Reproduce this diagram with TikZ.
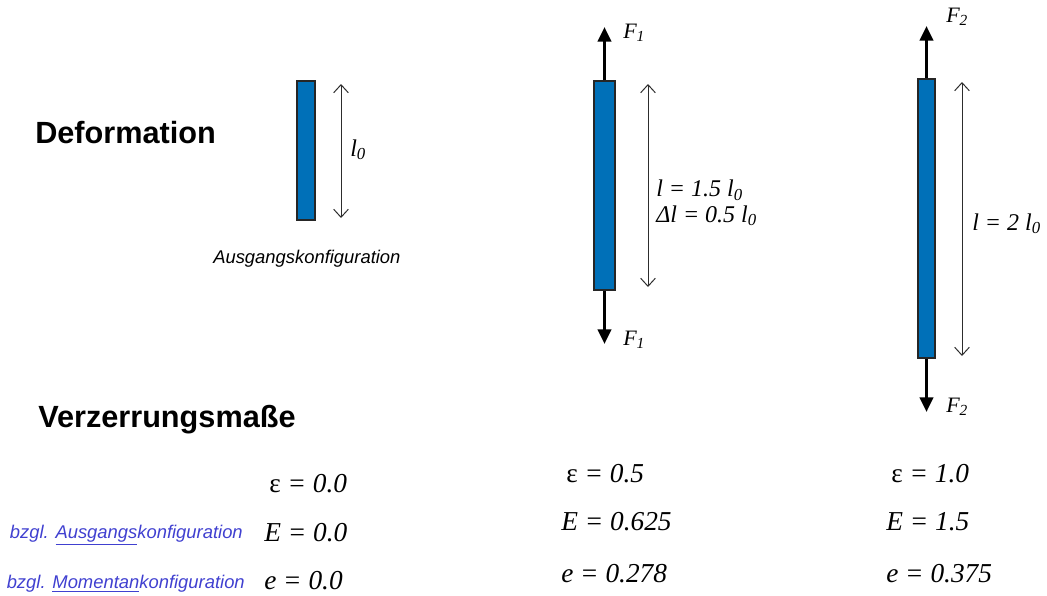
\documentclass[tikz,border=0pt]{standalone}
\usepackage{fontspec}
\setmainfont{Liberation Serif}
\setsansfont{Liberation Sans}
\usetikzlibrary{arrows.meta}
\definecolor{barblue}{RGB}{0,112,184}
\definecolor{labblue}{RGB}{64,64,208}
\definecolor{dimgray}{RGB}{45,45,45}
\newcommand{\mi}[1]{\textit{#1}}
\newcommand{\lsub}[1]{\textsubscript{\textit{#1}}}
\tikzset{
  bar/.style={draw=black!85, line width=0.8pt, fill=barblue, inner sep=0pt},
  dim/.style={draw=dimgray, line width=0.75pt, {Straight Barb[length=6pt,width=11pt]}-{Straight Barb[length=6pt,width=11pt]}},
  force/.style={draw=black, line width=2.3pt, -{Triangle[length=11pt,width=10pt]}},
  head/.style={font=\sffamily\bfseries\fontsize{23}{27}\selectfont, anchor=west, inner sep=0pt},
  note/.style={font=\sffamily\itshape\fontsize{13.8}{16}\selectfont, inner sep=0pt},
  lab/.style={font=\fontsize{18}{21}\selectfont\itshape, anchor=west, inner sep=0pt},
  flab/.style={font=\fontsize{16.5}{19}\selectfont\itshape, anchor=west, inner sep=0pt},
  val/.style={font=\fontsize{20.5}{24}\selectfont, anchor=west, inner sep=0pt},
}
\begin{document}
\begin{tikzpicture}[x=0.75pt, y=-0.75pt]
\useasboundingbox (0,0) rectangle (1047,596);
% headings
\node[head] (hdef) at (35,133) {Deformation};
\node[head] (hver) at (38,420) {Verzerrungsmaße};
% bar 1
\node[bar, minimum width=13.5pt, minimum height=104.25pt] (b1) at (306,150.5) {};
\coordinate (d1t) at (341,84);
\coordinate (d1b) at (341,218);
\draw[dim] (d1t) -- (d1b);
\node[lab] (l1) at (350,150) {l\lsub{0}};
\node[note, anchor=west] (ausg) at (213,259) {Ausgangskonfiguration};
% bar 2
\node[bar, minimum width=15.75pt, minimum height=156.75pt] (b2) at (604.5,185.5) {};
\coordinate (f1t) at (604.5,27);
\coordinate (f1b) at (604.5,344);
\draw[force] (b2.north) -- (f1t);
\draw[force] (b2.south) -- (f1b);
\node[flab] (F1t) at (623,33) {F\lsub{1}};
\node[flab] (F1b) at (623,340) {F\lsub{1}};
\coordinate (d2t) at (648,84);
\coordinate (d2b) at (648,287);
\draw[dim] (d2t) -- (d2b);
\node[lab, align=left] (l2) at (656,203) {l = 1.5 l\lsub{0}\\[-2pt]\textit{Δl} = 0.5 l\lsub{0}};
% bar 3
\node[bar, minimum width=12.75pt, minimum height=209.25pt] (b3) at (926.5,218.5) {};
\coordinate (f2t) at (926.5,26);
\coordinate (f2b) at (926.5,412);
\draw[force] (b3.north) -- (f2t);
\draw[force] (b3.south) -- (f2b);
\node[flab] (F2t) at (946,17) {F\lsub{2}};
\node[flab] (F2b) at (946,407) {F\lsub{2}};
\coordinate (d3t) at (962,82);
\coordinate (d3b) at (962,356);
\draw[dim] (d3t) -- (d3b);
\node[lab] (l3) at (972,224) {l = 2 l\lsub{0}};
% strain values
\node[val] (e1) at (269,484) {ε \mi{= 0.0}};
\node[val] (E1) at (264,533) {\mi{E = 0.0}};
\node[val] (s1) at (264,581) {\mi{e = 0.0}};
\node[val] (e2) at (566,474) {ε \mi{= 0.5}};
\node[val] (E2) at (561,522) {\mi{E = 0.625}};
\node[val] (s2) at (561,574) {\mi{e = 0.278}};
\node[val] (e3) at (891,474) {ε \mi{= 1.0}};
\node[val] (E3) at (886,522) {\mi{E = 1.5}};
\node[val] (s3) at (886,574) {\mi{e = 0.375}};
\node[note, text=labblue, anchor=east] (bA) at (243,535) {bzgl. \underline{Ausgangs}konfiguration};
\node[note, text=labblue, anchor=east] (bM) at (245,584) {bzgl. \underline{Momentan}konfiguration};
\end{tikzpicture}
\end{document}
